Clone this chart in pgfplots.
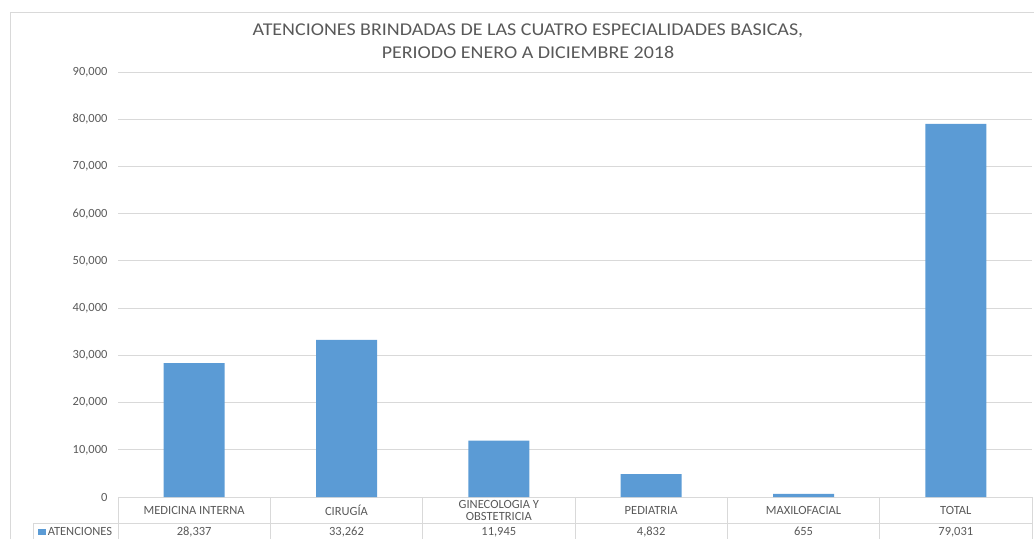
\documentclass[border=0pt]{standalone}
\usepackage{fontspec}
\setmainfont{Carlito}
\newfontfamily\titlefont[FakeStretch=1.11]{Carlito}
\usepackage{pgfplots}
\pgfplotsset{compat=1.18}

\definecolor{barc}{HTML}{5B9BD5}
\definecolor{gridc}{HTML}{D9D9D9}
\definecolor{textc}{HTML}{595959}

\newcommand{\tabfont}{\fontsize{12.5}{11.5}\selectfont}

\begin{document}
\begin{tikzpicture}
\useasboundingbox (0,0) rectangle (1034pt,539pt);
% chart frame
\draw[gridc, line width=0.8pt] (10pt,0) -- (10pt,527pt) -- (1034pt,527pt);

\begin{axis}[
    at={(118pt,42pt)}, anchor=south west,
    scale only axis,
    width=914pt, height=425pt,
    xmin=-0.5, xmax=5.5,
    ymin=0, ymax=90000,
    ytick={0,10000,...,90000},
    scaled y ticks=false,
    xtick={0,...,5},
    xticklabels={MEDICINA INTERNA, CIRUGÍA, {GINECOLOGIA Y\\OBSTETRICIA}, PEDIATRIA, MAXILOFACIAL, TOTAL},
    xticklabel style={anchor=center, yshift=-13.5pt, align=center, font=\tabfont, text=textc},
    yticklabel style={font=\fontsize{12.5}{14}\selectfont, text=textc, xshift=-7pt,
        /pgf/number format/fixed, /pgf/number format/precision=0,
        /pgf/number format/1000 sep={,}},
    /pgf/number format/assume math mode=true,
    ymajorgrids,
    grid style={gridc, line width=0.8pt},
    axis line style={draw=none},
    major tick style={draw=none},
    clip=false,
    legend style={draw=none, fill=none, at={(rel axis cs:0,0)}, anchor=center,
        xshift=-42pt, yshift=-35pt, font=\tabfont, text=textc, inner sep=0pt},
    legend image code/.code={\fill[barc] (0pt,-3pt) rectangle (8pt,3pt);},
]
\addplot[ybar, bar width=61pt, fill=barc, draw=none]
    coordinates {(0,28337) (1,33262) (2,11945) (3,4832) (4,655) (5,79031)};
\addlegendentry{ATENCIONES}
% values row of the data table
\addplot[draw=none, forget plot, nodes near coords, point meta=explicit,
    every node near coord/.style={anchor=base, yshift=-38.5pt, font=\tabfont, text=textc,
        /pgf/number format/fixed, /pgf/number format/precision=0,
        /pgf/number format/1000 sep={,}}]
    coordinates {(0,0) [28337] (1,0) [33262] (2,0) [11945] (3,0) [4832] (4,0) [655] (5,0) [79031]};
\end{axis}

% data table lines
\foreach \k in {0,...,6} {
  \draw[gridc, line width=0.8pt] ({118pt+152.333pt*\k},42pt) -- ({118pt+152.333pt*\k},0pt);
}
\draw[gridc, line width=0.8pt] (33pt,15.5pt) -- (1032pt,15.5pt);
\draw[gridc, line width=0.8pt] (33pt,15.5pt) -- (33pt,0pt);

% title
\node[anchor=base, text=textc, font=\titlefont\fontsize{18}{22}\selectfont] at (528pt,503pt)
  {ATENCIONES BRINDADAS DE LAS CUATRO ESPECIALIDADES BASICAS,};
\node[anchor=base, text=textc, font=\titlefont\fontsize{18}{22}\selectfont] at (528pt,480pt)
  {PERIODO ENERO A DICIEMBRE 2018};
\end{tikzpicture}
\end{document}
